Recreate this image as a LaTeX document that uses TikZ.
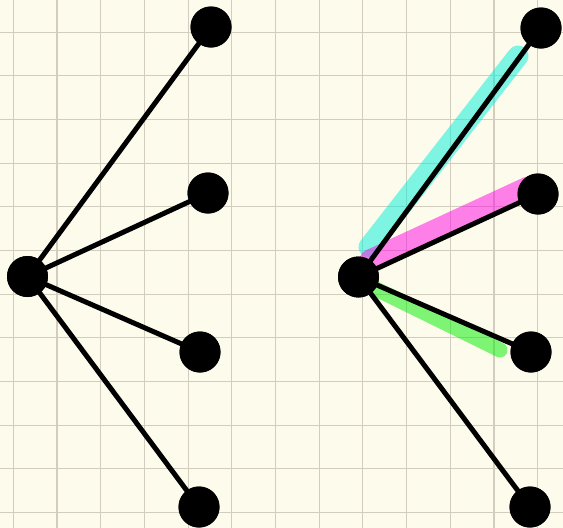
\documentclass[tikz,border=0pt]{standalone}
\begin{document}
\begin{tikzpicture}[x=1pt,y=-1pt,
  gridline/.style={draw=gridc,line width=1.1pt},
  edge/.style={draw=black,line width=5pt},
  dot/.style={circle,fill=black,minimum size=41pt,inner sep=0pt},
  hl/.style={line width=#1,line cap=round,opacity=0.5}]
\definecolor{bgc}{RGB}{253,251,236}
\definecolor{gridc}{RGB}{210,205,190}
\definecolor{hlcyan}{RGB}{0,239,220}
\definecolor{hlmag}{RGB}{255,5,228}
\definecolor{hlgreen}{RGB}{0,239,0}
\fill[bgc] (0,0) rectangle (563,528);
\useasboundingbox (0,0) rectangle (563,528);
\foreach \i in {0,...,12} \draw[gridline] (13.3+43.7*\i,0) -- (13.3+43.7*\i,528);
\foreach \i in {0,...,11} \draw[gridline] (0,32.3+43.64*\i) -- (563,32.3+43.64*\i);
% left graph
\node[dot] (lh) at (27.5,276.5) {};
\node[dot] (l1) at (211,27) {};
\node[dot] (l2) at (208,193) {};
\node[dot] (l3) at (200,352) {};
\node[dot] (l4) at (199,507) {};
% right graph
\node[dot] (rh) at (358.5,277) {};
\node[dot] (r1) at (541,28) {};
\node[dot] (r2) at (538,194) {};
\node[dot] (r3) at (531,352) {};
\node[dot] (r4) at (530,507) {};
% highlights
\coordinate (c1) at (369,247); \coordinate (c2) at (518,56);
\coordinate (m1) at (370,260); \coordinate (m2) at (528,187);
\coordinate (g1) at (372,287); \coordinate (g2) at (500,350);
\draw[hl=21pt,hlcyan] (c1) -- (c2);
\draw[hl=21pt,hlmag] (m1) -- (m2);
\draw[hl=15pt,hlgreen] (g1) -- (g2);
% edges
\foreach \t in {l1,l2,l3,l4} \draw[edge] (lh.center) -- (\t.center);
\foreach \t in {r1,r2,r3,r4} \draw[edge] (rh.center) -- (\t.center);
% dots on top
\foreach \p in {{27.5,276.5},{211,27},{208,193},{200,352},{199,507},{358.5,277},{541,28},{538,194},{531,352},{530,507}}
  \fill[black] (\p) circle (20.5pt);
\end{tikzpicture}
\end{document}
